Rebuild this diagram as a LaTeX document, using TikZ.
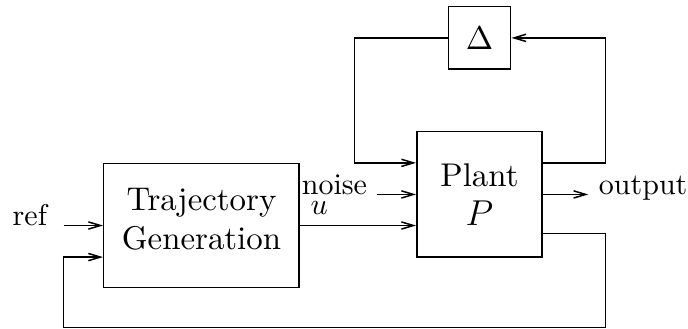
\documentclass[tikz,border=0pt]{standalone}
\usepackage{amsmath}
\usetikzlibrary{arrows.meta, positioning}

\begin{document}
\begin{tikzpicture} [node distance = 2cm, on grid, auto, line width = 0.5pt,
    block/.style = {draw, align = center, font = \fontsize{10.95pt}{13pt}\selectfont},
    tag/.style = {inner sep = 0pt},
    > = {Straight Barb[length = 4pt, width = 2.4pt]}]

\node (traj) [block, minimum width = 2.29cm, minimum height = 1.45cm, text depth = 4.4pt] {Trajectory\\Generation};
\useasboundingbox ([shift={(-34.33pt,75.17pt)}]traj.west) rectangle ([shift={(195pt,-34.17pt)}]traj.west);
\node (plant) [block, minimum size = 1.47cm, above right = 0.364cm and 3.257cm of traj] {Plant\\{\large $P$}};
\node (delta) [block, minimum size = 0.73cm, above = 1.834cm of plant] {$\Delta$};

\coordinate (rin) at ([xshift=-0.46cm]traj.west);
\coordinate (nin) at ([xshift=-0.46cm]plant.west);
\coordinate (oend) at ([xshift=0.53cm]plant.east);
\coordinate (pin1) at ([yshift=0.37cm]plant.west);
\coordinate (pout1) at ([yshift=0.37cm]plant.east);
\coordinate (pout2) at ([yshift=-0.46cm]plant.east);
\coordinate (tin2) at ([yshift=-0.37cm]traj.west);
\coordinate (fb) at ([shift={(-0.46cm,-0.46cm)}]traj.south west);

\node (ref) [tag, anchor = base east] at ([xshift=-5.33pt]rin) {ref};
\node (noise) [tag, anchor = base east] at ([xshift=-3pt]nin) {noise};
\node (u) [tag, anchor = base west] at ([shift={(3.33pt,3.67pt)}]traj.east) {$u$};
\node (out) [tag, anchor = base west] at ([xshift=3.33pt]oend) {output};

\path [->]
    (rin) edge (traj.west)
    (nin) edge (plant.west)
    (traj.east) edge (traj.east -| plant.west)
    (plant.east) edge (oend);
\draw [->] (delta.west) -- ++(-1.09cm,0) |- (pin1);
\draw [->] (pout1) -- ++(0.73cm,0) |- (delta.east);
\draw [->] (pout2) -- ++(0.73cm,0) |- (fb) |- (tin2);
\end{tikzpicture}
\end{document}
